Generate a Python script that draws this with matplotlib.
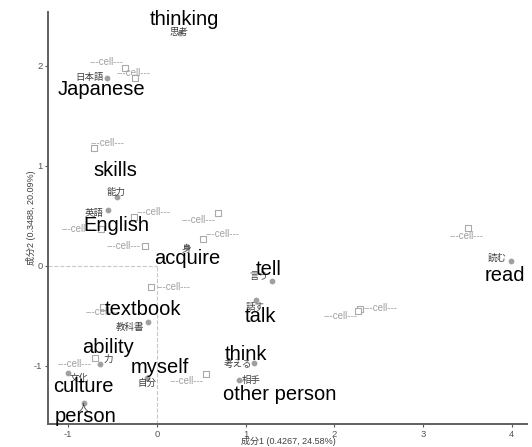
import matplotlib.pyplot as plt

plt.rcParams['font.family'] = ['Liberation Sans', 'Noto Sans CJK JP', 'DejaVu Sans']

# palabras (puntos) : coordenadas en el plano de componentes
word_x = [0.26, -0.56, -0.45, -0.55, 0.345, 1.30, 1.12, 1.09, 0.93, 3.99, -0.10, -0.64, -1.00, -0.82, -0.11]
word_y = [2.33, 1.88, 0.69, 0.56, 0.19, -0.15, -0.34, -0.97, -1.14, 0.05, -0.56, -0.98, -1.07, -1.37, -1.12]
word_jp = ['思考', '日本語', '能力', '英語', '身', '言う', '話す', '考える', '相手', '読む',
           '教科書', '力', '文化', '人', '自分']
word_en = ['thinking', 'Japanese', 'skills', 'English', 'acquire', 'tell', 'talk', 'think',
           'other person', 'read', 'textbook', 'ability', 'culture', 'person', 'myself']
# posiciones de las etiquetas (repel)
jp_lab_x = [0.25, -0.76, -0.46, -0.71, 0.33, 1.15, 1.11, 0.92, 1.06, 3.83, -0.30, -0.55, -0.87, -0.82, -0.11]
jp_lab_y = [2.34, 1.88, 0.74, 0.52, 0.17, -0.11, -0.41, -0.98, -1.14, 0.08, -0.61, -0.93, -1.12, -1.42, -1.17]
en_lab_x = [0.31, -0.62, -0.47, -0.45, 0.34, 1.26, 1.17, 1.01, 1.39, 3.92, -0.16, -0.55, -0.83, -0.80, 0.04]
en_lab_y = [2.46, 1.76, 0.95, 0.40, 0.07, -0.04, -0.51, -0.89, -1.29, -0.10, -0.44, -0.82, -1.21, -1.51, -1.02]

# celdas (cuadrados)
cell_x = [-0.36, -0.25, -0.71, -0.26, 0.69, 0.52, -0.13, -0.63, -0.07, 2.29, 2.27, 0.56, -0.61, -0.70, 3.51]
cell_y = [1.98, 1.88, 1.18, 0.49, 0.53, 0.27, 0.20, 0.37, -0.21, -0.43, -0.45, -1.08, -0.41, -0.92, 0.38]
cell_lab_x = [-0.57, -0.26, -0.55, -0.04, 0.47, 0.74, -0.37, -0.88, 0.19, 2.52, 2.07, 0.34, -0.61, -0.93, 3.49]
cell_lab_y = [2.04, 1.93, 1.23, 0.54, 0.46, 0.32, 0.20, 0.37, -0.21, -0.42, -0.50, -1.15, -0.46, -0.98, 0.30]

xlim = (-1.225, 4.17)
ylim = (-1.58, 2.54)

fig = plt.figure(figsize=(5.32, 4.47), dpi=100)
ax = fig.add_axes([0.0902, 0.0515, 0.9004, 0.9217])

# lineas de referencia
ax.plot([xlim[0], 0], [0, 0], color='#c8c8c8', linestyle='--', linewidth=0.8, zorder=1)
ax.plot([0, 0], [ylim[0], 0], color='#c8c8c8', linestyle='--', linewidth=0.8, zorder=1)

# celdas
ax.scatter(cell_x, cell_y, marker='s', s=24, facecolors='white', edgecolors='#aaaaaa',
           linewidths=0.8, zorder=2)
for lx, ly in zip(cell_lab_x, cell_lab_y):
    ax.text(lx, ly, '---cell---', fontsize=7, color='#a0a0a0', ha='center', va='center', zorder=3)

# palabras
ax.scatter(word_x, word_y, marker='o', s=10, color='#a0a0a0', zorder=3)
for lx, ly, t in zip(jp_lab_x, jp_lab_y, word_jp):
    ax.text(lx, ly, t, fontsize=6.8, color='#404040', ha='center', va='center', zorder=4)
for lx, ly, t in zip(en_lab_x, en_lab_y, word_en):
    ax.text(lx, ly, t, fontsize=14.5, color='black', ha='center', va='center', zorder=5)

ax.set_xlim(*xlim)
ax.set_ylim(*ylim)
ax.set_xticks([-1, 0, 1, 2, 3, 4])
ax.set_yticks([-1, 0, 1, 2])
ax.set_xticklabels(['-1', '0', '1', '2', '3', '4'])
ax.set_yticklabels(['-1', '0', '1', '2'])
ax.tick_params(labelsize=6.8, colors='#555555', length=2.5, width=0.8, pad=1.5)

for s in ['top', 'right']:
    ax.spines[s].set_visible(False)
for s in ['left', 'bottom']:
    ax.spines[s].set_color('#606060')
    ax.spines[s].set_linewidth(1.4)

ax.set_xlabel('成分1 (0.4267, 24.58%)', fontsize=6.5, color='#404040')
ax.xaxis.set_label_coords(0.501, -0.028)
ax.set_ylabel('成分2 (0.3488, 20.09%)', fontsize=6.5, color='#404040')
ax.yaxis.set_label_coords(-0.026, 0.5)

fig.savefig('out.png', dpi=100)
